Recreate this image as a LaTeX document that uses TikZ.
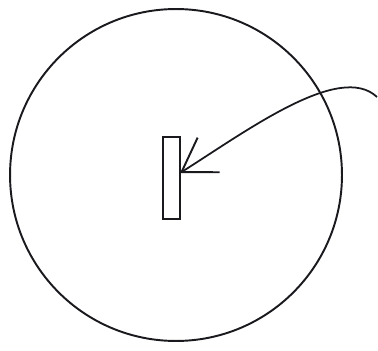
\documentclass[tikz,border=0pt]{standalone}
\usepackage{tikz}
\usetikzlibrary{arrows.meta, positioning, calc}
\definecolor{myink}{RGB}{25,25,30}
\tikzset{
  ring/.style={circle, draw=myink, line width=1.1pt,
    minimum size=6.64cm, inner sep=0pt},
  bar/.style={rectangle, draw=myink, line width=1.2pt,
    minimum width=0.34cm, minimum height=1.64cm, inner sep=0pt},
  pointer/.style={-{Straight Barb[length=0.64cm, width=0.82cm, line width=1.1pt]},
    line width=1pt, color=myink}
}

\begin{document}
\begin{tikzpicture}[x=0.02cm, y=-0.02cm]
  \useasboundingbox (0,0) rectangle (378,351);
  % outer circle
  \node[ring] (disc) at (176,175) {};
  % small bar in the middle
  \node[bar] (slot) at (171.5,178) {};
  % curved pointer coming in from the right
  \coordinate (tail) at (377,97);
  \draw[pointer] (tail) .. controls (340,62) and (248,130) .. ($(slot.east)+(-1,-5)$);
\end{tikzpicture}
\end{document}
